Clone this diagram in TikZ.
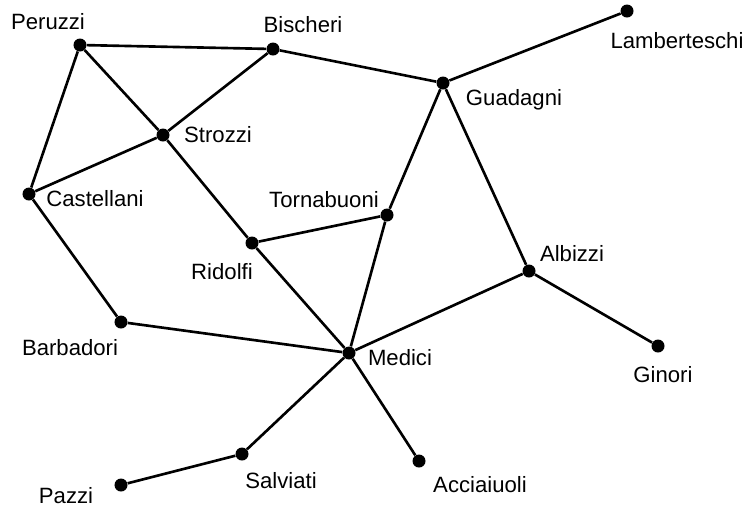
\documentclass[tikz,border=0pt]{standalone}
\usepackage{fontspec}
\setmainfont{Liberation Sans}
\usepackage{tikz}

\begin{document}
\begin{tikzpicture}[x=0.02cm, y=-0.02cm,
      family/.style={circle, fill=black, inner sep=0pt, minimum size=7.4pt},
      famname/.style={anchor=base, inner sep=0pt,
         font=\fontsize{12.6}{15}\selectfont},
      tie/.style={line width=1.5pt}]
      \useasboundingbox (0,0) rectangle (748,508);

      \node (peruzzi) at (80,45) [family] {};
      \node (bischeri) at (273,49) [family] {};
      \node (lamberteschi) at (627,11) [family] {};
      \node (guadagni) at (443,83) [family] {};
      \node (strozzi) at (163,135) [family] {};
      \node (castellani) at (29,194) [family] {};
      \node (tornabuoni) at (387,215) [family] {};
      \node (ridolfi) at (252,243) [family] {};
      \node (albizzi) at (529,271) [family] {};
      \node (barbadori) at (121,322) [family] {};
      \node (medici) at (349,353) [family] {};
      \node (ginori) at (658,346) [family] {};
      \node (salviati) at (242,454) [family] {};
      \node (acciaiuoli) at (419,461) [family] {};
      \node (pazzi) at (121,485) [family] {};

      \node (peruzzi-name) at (48,29) [famname] {Peruzzi};
      \node (bischeri-name) at (303,32) [famname] {Bischeri};
      \node (lamberteschi-name) at (677,48) [famname] {Lamberteschi};
      \node (guadagni-name) at (514,105) [famname] {Guadagni};
      \node (strozzi-name) at (218,142) [famname] {Strozzi};
      \node (castellani-name) at (95,206) [famname] {Castellani};
      \node (tornabuoni-name) at (324,207) [famname] {Tornabuoni};
      \node (ridolfi-name) at (222,279) [famname] {Ridolfi};
      \node (albizzi-name) at (572,261) [famname] {Albizzi};
      \node (barbadori-name) at (70,355) [famname] {Barbadori};
      \node (medici-name) at (400,365) [famname] {Medici};
      \node (ginori-name) at (663,382) [famname] {Ginori};
      \node (salviati-name) at (281,488) [famname] {Salviati};
      \node (acciaiuoli-name) at (480,492) [famname] {Acciaiuoli};
      \node (pazzi-name) at (66,503) [famname] {Pazzi};

      \draw [tie] (peruzzi) -- (bischeri);
      \draw [tie] (peruzzi) -- (strozzi);
      \draw [tie] (peruzzi) -- (castellani);
      \draw [tie] (bischeri) -- (strozzi);
      \draw [tie] (bischeri) -- (guadagni);
      \draw [tie] (guadagni) -- (lamberteschi);
      \draw [tie] (guadagni) -- (tornabuoni);
      \draw [tie] (guadagni) -- (albizzi);
      \draw [tie] (strozzi) -- (castellani);
      \draw [tie] (strozzi) -- (ridolfi);
      \draw [tie] (castellani) -- (barbadori);
      \draw [tie] (tornabuoni) -- (ridolfi);
      \draw [tie] (tornabuoni) -- (medici);
      \draw [tie] (ridolfi) -- (medici);
      \draw [tie] (barbadori) -- (medici);
      \draw [tie] (albizzi) -- (medici);
      \draw [tie] (albizzi) -- (ginori);
      \draw [tie] (medici) -- (salviati);
      \draw [tie] (medici) -- (acciaiuoli);
      \draw [tie] (salviati) -- (pazzi);
   \end{tikzpicture}
\end{document}
